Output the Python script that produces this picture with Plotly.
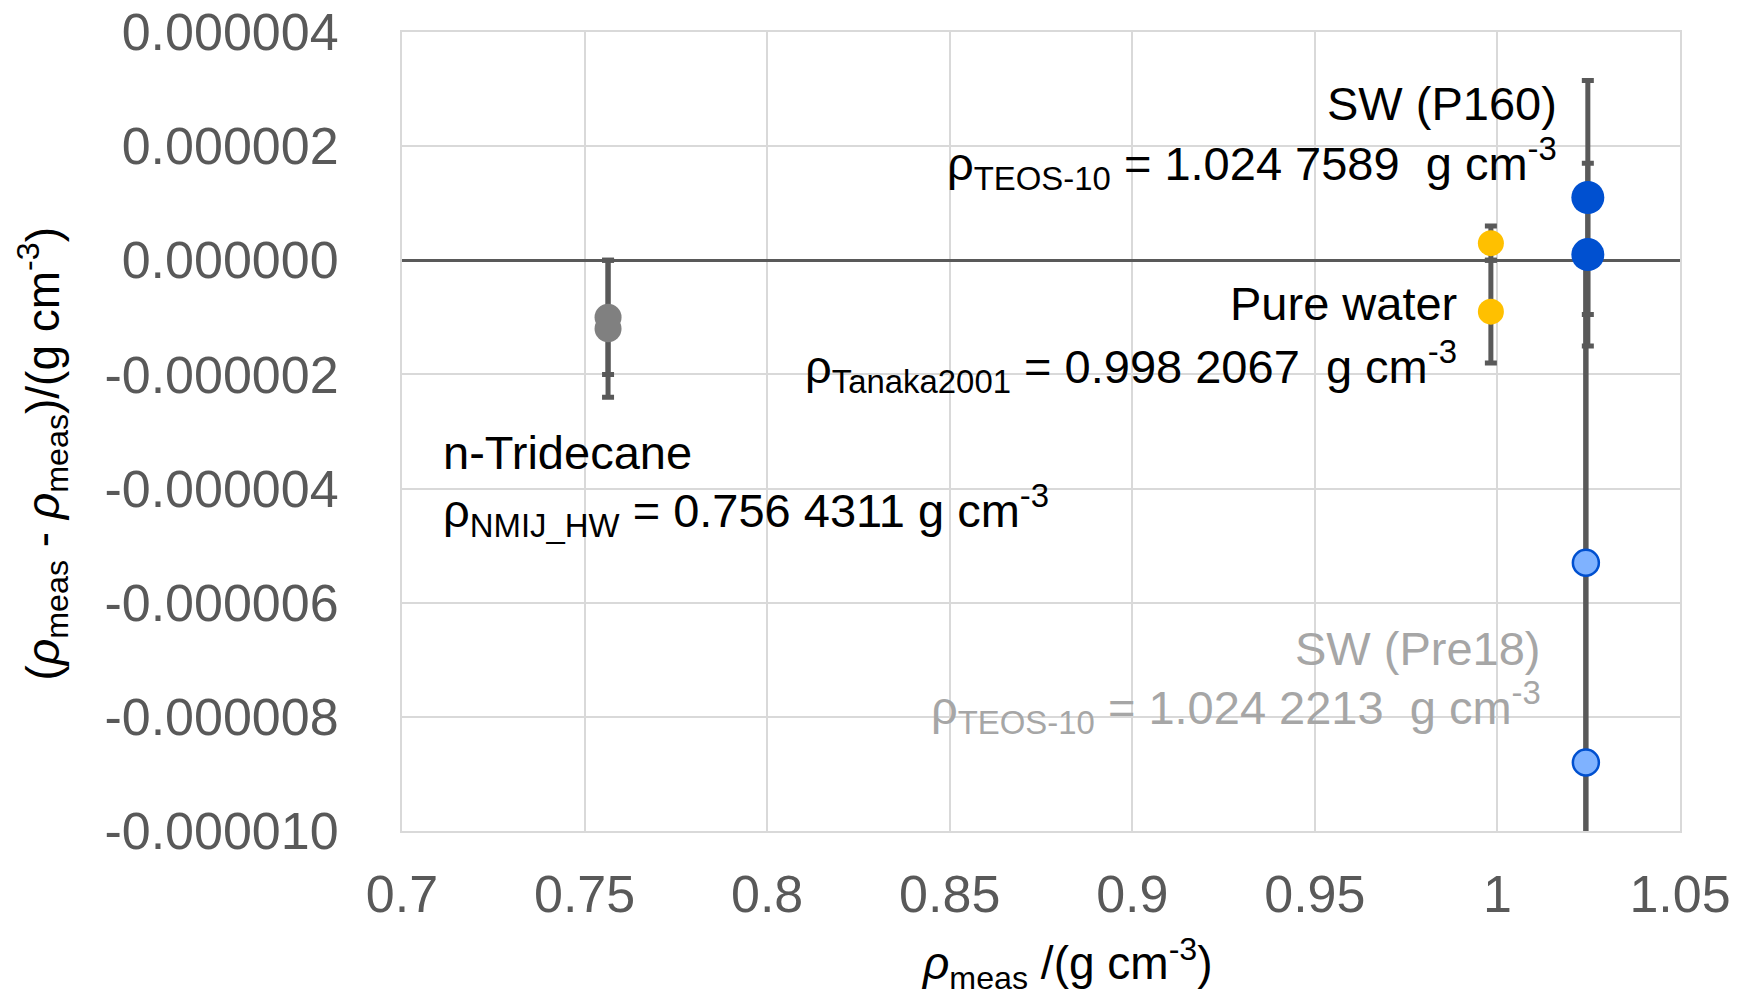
import plotly.graph_objects as go

# ---- data ----
tridecane_x = [0.7564311, 0.7564311]
tridecane_y = [-1.0e-6, -1.2e-6]
tridecane_err = [1.0e-6, 1.2e-6]

water_x = [0.9982067, 0.9982067]
water_y = [0.3e-6, -0.9e-6]
water_err = [0.3e-6, 0.9e-6]

sw_pre18_x = [1.0242213, 1.0242213]
sw_pre18_y = [-5.3e-6, -8.8e-6]
sw_pre18_err = [5.3e-6, 8.8e-6]

sw_p160_x = [1.0247589, 1.0247589]
sw_p160_y = [1.1e-6, 0.1e-6]
sw_p160_err = [2.05e-6, 1.6e-6]

y_tickvals = [4e-6, 2e-6, 0, -2e-6, -4e-6, -6e-6, -8e-6, -10e-6]
y_ticktext = ["0.000004", "0.000002", "0.000000", "-0.000002", "-0.000004",
              "-0.000006", "-0.000008", "-0.000010"]
x_tickvals = [0.7, 0.75, 0.8, 0.85, 0.9, 0.95, 1.0, 1.05]
x_ticktext = ["0.7", "0.75", "0.8", "0.85", "0.9", "0.95", "1", "1.05"]

FONT = "Liberation Sans"
ERR = "#595959"

def err(arr):
    return dict(type="data", array=arr, symmetric=True, color=ERR, thickness=5, width=6)

fig = go.Figure()
fig.add_trace(go.Scatter(x=tridecane_x, y=tridecane_y, mode="markers",
                         marker=dict(size=27, color="#808080"),
                         error_y=err(tridecane_err), showlegend=False))
fig.add_trace(go.Scatter(x=water_x, y=water_y, mode="markers",
                         marker=dict(size=26, color="#FFC000"),
                         error_y=err(water_err), showlegend=False))
fig.add_trace(go.Scatter(x=sw_pre18_x, y=sw_pre18_y, mode="markers",
                         marker=dict(size=26, color="#7FB2FF",
                                     line=dict(color="#0050D0", width=2.5)),
                         error_y=err(sw_pre18_err), showlegend=False))
fig.add_trace(go.Scatter(x=sw_p160_x, y=sw_p160_y, mode="markers",
                         marker=dict(size=33, color="#0050D0"),
                         error_y=err(sw_p160_err), showlegend=False))

BLACK = "#000000"
GRAY = "#A6A6A6"
ann = [
    ("SW (P160)", 1.0169, 2.74e-6, "right", BLACK),
    ("ρ<sub>TEOS-10</sub> = 1.024 7589  g cm<sup>-3</sup>", 1.0169, 1.69e-6, "right", BLACK),
    ("Pure water", 0.9895, -0.76e-6, "right", BLACK),
    ("ρ<sub>Tanaka2001</sub> = 0.998 2067  g cm<sup>-3</sup>", 0.9895, -1.86e-6, "right", BLACK),
    ("n-Tridecane", 0.7107, -3.37e-6, "left", BLACK),
    ("ρ<sub>NMIJ_HW</sub> = 0.756 4311 g cm<sup>-3</sup>", 0.7107, -4.39e-6, "left", BLACK),
    ("SW (Pre18)", 1.0125, -6.8e-6, "right", GRAY),
    ("ρ<sub>TEOS-10</sub> = 1.024 2213  g cm<sup>-3</sup>", 1.0125, -7.84e-6, "right", GRAY),
]
for text, x, y, anchor, col in ann:
    fig.add_annotation(x=x, y=y, xref="x", yref="y", text=text, showarrow=False,
                       xanchor=anchor, yanchor="middle",
                       font=dict(family=FONT, size=47, color=col))

# axis titles as annotations
fig.add_annotation(x=0.5, y=-0.168, xref="paper", yref="paper",
                   text="<i>ρ</i><sub>meas</sub> /(g cm<sup>-3</sup>)",
                   showarrow=False, xanchor="center", yanchor="middle",
                   xshift=26, yshift=2,
                   font=dict(family=FONT, size=46, color="#000000"))
fig.add_annotation(x=-0.281, y=0.5, xref="paper", yref="paper",
                   text="(<i>ρ</i><sub>meas</sub> - <i>ρ</i><sub>meas</sub>)/(g cm<sup>-3</sup>)",
                   showarrow=False, xanchor="center", yanchor="middle",
                   textangle=-90, yshift=-22,
                   font=dict(family=FONT, size=46, color="#000000"))

fig.update_xaxes(range=[0.7, 1.05], tickvals=x_tickvals, ticktext=x_ticktext,
                 showgrid=True, gridcolor="#D9D9D9", gridwidth=2,
                 showline=True, mirror=True, linecolor="#D9D9D9", linewidth=2,
                 zeroline=False, ticks="", ticklabelstandoff=17, automargin=False,
                 tickfont=dict(family=FONT, size=52, color="#595959"))
fig.update_yaxes(range=[-10e-6, 4e-6], tickvals=y_tickvals, ticktext=y_ticktext,
                 showgrid=True, gridcolor="#D9D9D9", gridwidth=2,
                 showline=True, mirror=True, linecolor="#D9D9D9", linewidth=2,
                 zeroline=True, zerolinecolor="#595959", zerolinewidth=2.5,
                 ticks="", ticklabelstandoff=51, automargin=False,
                 tickfont=dict(family=FONT, size=52, color="#595959"))

fig.update_layout(width=1742, height=996,
                  margin=dict(l=402, r=62, t=32, b=165),
                  plot_bgcolor="white", paper_bgcolor="white",
                  font=dict(family=FONT))

fig.write_html("out.html")
